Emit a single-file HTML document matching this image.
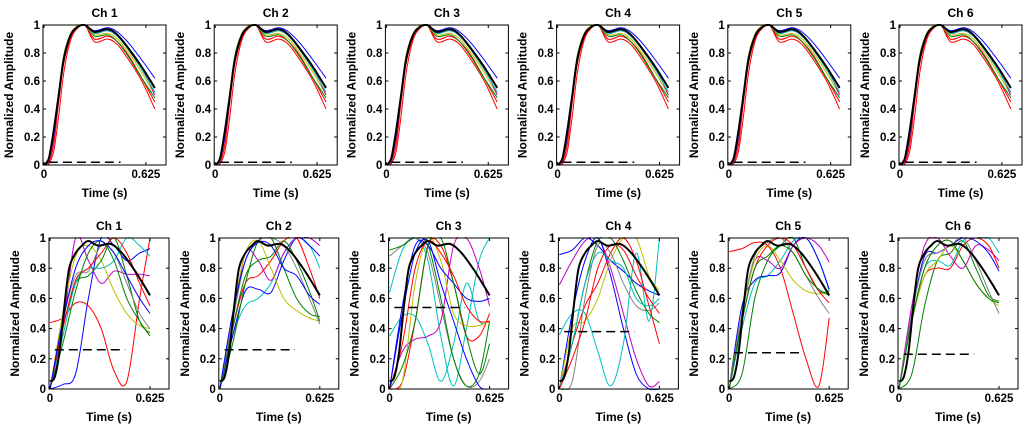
<!DOCTYPE html>
<html><head><meta charset="utf-8"><style>
html,body{margin:0;padding:0;background:#fff;}
svg{display:block;}
text{font-family:"Liberation Sans",Arial,sans-serif;font-weight:bold;fill:#000;}
</style></head><body>
<svg id="fig" width="1024" height="429" viewBox="0 0 1024 429"></svg>
<script>
// ---- data ----
const channels = ["Ch 1","Ch 2","Ch 3","Ch 4","Ch 5","Ch 6"];
const yTicks = [0,0.2,0.4,0.6,0.8,1];
const yTickLabels = ["0","0.2","0.4","0.6","0.8","1"];
const xTicks = [0,0.625];
const xTickLabels = ["0","0.625"];
const colors = {r:"#ff0000",g:"#008000",b:"#0000ff",c:"#00bfbf",m:"#bf00bf",y:"#bfbf00",k:"#404040",gr:"#808080"};

// top row
const topT = [0,0.03,0.06,0.09,0.12,0.16,0.2,0.25,0.31,0.39,0.45,0.52,0.6,0.68];
const topBlack = [0,0.05,0.25,0.5,0.75,0.92,0.98,1.0,0.95,0.97,0.93,0.83,0.7,0.55];
const topRed1 = [0,0.01,0.1,0.35,0.65,0.88,0.97,1.0,0.88,0.9,0.86,0.75,0.6,0.4];
const topRed2 = [0,0.02,0.15,0.45,0.72,0.9,0.98,1.0,0.9,0.92,0.88,0.78,0.62,0.45];
const topGreen = [0,0.03,0.2,0.5,0.78,0.93,0.99,1.0,0.92,0.93,0.88,0.77,0.62,0.48];
const topBlue = [0,0.04,0.22,0.5,0.76,0.92,0.98,1.0,0.96,0.98,0.95,0.87,0.75,0.62];
const topCyan = [0,0.04,0.23,0.5,0.77,0.92,0.98,1.0,0.94,0.96,0.92,0.82,0.68,0.52];
const topMag = [0,0.03,0.2,0.47,0.74,0.91,0.98,1.0,0.94,0.96,0.92,0.83,0.7,0.5];
const topYel = [0,0.03,0.22,0.5,0.78,0.93,0.99,1.0,0.93,0.94,0.9,0.8,0.66,0.5];
const topGray = [0,0.04,0.24,0.5,0.77,0.92,0.98,1.0,0.95,0.97,0.93,0.83,0.7,0.56];
const topThresh = [0.02,0.02,0.02,0.02,0.02,0.02];
const topCurves = [["r",topRed1],["r",topRed2],["g",topGreen],["y",topYel],["m",topMag],["c",topCyan],["gr",topGray],["b",topBlue]];

// bottom row
const botT = [0,0.08,0.16,0.24,0.32,0.4,0.48,0.56,0.625];
const botBlackT = [0,0.03,0.06,0.09,0.12,0.16,0.2,0.24,0.3,0.38,0.45,0.52,0.58,0.625];
const botBlack = [0.05,0.08,0.25,0.55,0.8,0.9,0.95,0.98,0.95,0.96,0.9,0.8,0.7,0.62];
const botThresh = [0.26,0.26,0.54,0.38,0.24,0.23];
const bot1 = [["r",[0.44,0.47,0.57,0.55,0.4,0.12,0.05,0.6,1.0]],["b",[0,0.03,0.1,0.6,1.0,0.95,0.85,0.9,0.93]],["m",[0,0.4,1.0,0.85,0.7,0.78,0.76,0.76,0.75]],["y",[0,0.5,0.88,0.95,0.85,0.65,0.5,0.42,0.4]],["g",[0,0.4,0.7,0.75,0.85,1.0,0.75,0.45,0.37]],["c",[0,0.35,0.7,0.8,0.8,0.85,1.0,0.95,0.88]],["gr",[0,0.45,0.75,0.78,0.95,0.9,0.7,0.5,0.4]],["r",[0,0.4,0.72,0.8,0.9,1.0,0.9,0.7,0.55]],["g",[0,0.3,0.65,0.9,0.98,0.85,0.6,0.45,0.35]],["b",[0,0.45,0.8,0.95,0.98,0.9,0.75,0.6,0.5]]];
const bot2 = [["c",[0,0.35,0.55,0.6,0.7,0.9,1.0,0.95,0.8]],["b",[0,0.35,0.65,0.66,0.64,0.85,1.0,0.95,0.88]],["r",[0,0.4,0.7,0.75,0.85,0.98,1.0,0.8,0.6]],["m",[0,0.45,0.9,0.85,0.72,0.9,1.0,1.0,0.95]],["y",[0,0.5,0.9,0.98,0.8,0.6,0.52,0.47,0.45]],["g",[0,0.3,0.7,0.98,1.0,0.8,0.6,0.5,0.48]],["g",[0,0.4,0.75,0.85,0.88,0.98,0.85,0.65,0.45]],["gr",[0,0.45,0.85,0.98,1.0,0.95,0.8,0.6,0.43]],["b",[0,0.5,0.85,0.97,0.95,0.8,0.75,0.62,0.56]]];
const bot3 = [["c",[0.64,0.92,1.0,0.85,0.35,0.02,0.4,0.85,1.0]],["c",[0.35,0.48,0.48,0.3,0.05,0.3,0.7,0.45,0.45]],["gr",[0.88,0.95,1.0,0.9,0.55,0.2,0.02,0.05,0.2]],["g",[0.92,0.95,1.0,0.95,0.6,0.2,0.02,0.1,0.45]],["m",[0,0.25,0.33,0.35,0.45,0.95,1.0,0.8,0.55]],["r",[0,0.05,0.45,0.95,0.95,0.7,0.35,0.35,0.5]],["y",[0,0.05,0.7,1.0,0.85,0.5,0.42,0.42,0.45]],["b",[0,0.55,0.95,0.95,0.8,0.7,0.6,0.58,0.6]],["g",[0,0.15,0.45,0.95,1.0,0.7,0.35,0.1,0.3]],["r",[0,0.3,0.8,0.98,0.9,0.75,0.55,0.45,0.45]],["b",[0,0.5,0.9,0.98,0.7,0.45,0.2,0.02,0.0]]];
const bot4 = [["b",[0.89,0.92,1.0,0.95,0.85,0.78,0.7,0.65,0.62]],["m",[0.69,0.85,0.98,1.0,0.8,0.5,0.2,0.02,0.05]],["b",[0,0.5,0.85,1.0,0.75,0.4,0.1,0,0]],["c",[0.36,0.5,0.5,0.25,0.02,0.3,0.9,0.45,1.0]],["y",[0,0.4,0.45,0.6,0.85,1.0,1.0,0.75,0.65]],["r",[0,0.3,0.55,0.7,0.9,1.0,0.85,0.55,0.3]],["gr",[0,0.05,0.6,0.95,0.9,0.7,0.55,0.52,0.57]],["g",[0,0.3,0.7,0.98,1.0,0.85,0.65,0.5,0.44]],["c",[0,0.3,0.7,0.9,0.85,0.8,0.6,0.55,0.6]],["r",[0,0.2,0.45,0.8,0.95,0.92,0.75,0.6,0.5]]];
const bot5 = [["r",[0.91,0.93,0.97,0.95,0.8,0.5,0.2,0.02,0.47]],["g",[0,0.1,0.6,0.85,0.95,1.0,0.8,0.65,0.65]],["c",[0,0.4,0.7,0.75,0.85,0.98,1.0,0.85,0.65]],["b",[0,0.55,0.72,0.75,0.77,0.95,1.0,0.85,0.66]],["m",[0,0.5,0.85,0.85,0.8,0.95,1.0,0.95,0.84]],["y",[0,0.5,0.85,0.95,0.85,0.72,0.65,0.63,0.64]],["gr",[0,0.5,0.88,0.97,1.0,0.9,0.75,0.6,0.5]],["r",[0,0.45,0.8,0.95,1.0,0.95,0.8,0.65,0.57]],["g",[0,0.45,0.8,0.88,0.95,0.9,0.75,0.66,0.62]]];
const bot6 = [["g",[0,0.1,0.55,0.85,0.9,0.98,0.8,0.62,0.58]],["m",[0,0.55,0.95,1.0,0.88,0.8,0.95,0.92,0.85]],["r",[0,0.45,0.75,0.8,0.8,0.95,1.0,0.95,0.8]],["c",[0,0.45,0.8,0.85,0.82,0.98,1.0,1.0,0.9]],["b",[0,0.5,0.88,0.9,0.95,1.0,0.98,0.9,0.78]],["y",[0,0.45,0.75,0.85,0.95,0.85,0.7,0.6,0.55]],["gr",[0,0.5,0.85,0.9,0.95,1.0,0.85,0.65,0.5]],["g",[0,0.45,0.8,0.95,0.98,0.85,0.7,0.6,0.57]]];
const botCurves = [bot1,bot2,bot3,bot4,bot5,bot6];
const threshStart = 0.03, threshEnd = 0.47;

// ---- drawing ----
const NS = "http://www.w3.org/2000/svg";
const svg = document.getElementById("fig");
function mk(tag, attrs, parent){
  const e = document.createElementNS(NS, tag);
  for (const k in attrs) e.setAttribute(k, attrs[k]);
  (parent||svg).appendChild(e);
  return e;
}
function spline(pts){
  let d = "M"+pts[0][0].toFixed(1)+","+pts[0][1].toFixed(1);
  for (let i=0;i<pts.length-1;i++){
    const p0=pts[Math.max(0,i-1)], p1=pts[i], p2=pts[i+1], p3=pts[Math.min(pts.length-1,i+2)];
    const c1=[p1[0]+(p2[0]-p0[0])/6, p1[1]+(p2[1]-p0[1])/6];
    const c2=[p2[0]-(p3[0]-p1[0])/6, p2[1]-(p3[1]-p1[1])/6];
    d += "C"+c1[0].toFixed(1)+","+c1[1].toFixed(1)+" "+c2[0].toFixed(1)+","+c2[1].toFixed(1)+" "+p2[0].toFixed(1)+","+p2[1].toFixed(1);
  }
  return d;
}
function panel(row, i){
  const left = row===0 ? 43+171.2*i : 49+169.8*i;
  const top = row===0 ? 25 : 238;
  const bottom = row===0 ? 165 : 389;
  const pxPerUnit = row===0 ? 163 : 160;
  const width = row===0 ? 123 : 120;
  const xs = t => left+1+t*pxPerUnit;
  const ys = v => bottom-(bottom-top)*v;
  const g = mk("g", {});
  
  
  const clipId = "clip"+row+"_"+i;
  const cp = mk("clipPath",{id:clipId},g);
  mk("rect",{x:left,y:top-1,width:width,height:bottom-top+2},cp);
  const plot = mk("g",{"clip-path":"url(#"+clipId+")"},g);
  const curves = row===0 ? topCurves : botCurves[i];
  const T = row===0 ? topT : botT;
  curves.forEach((c,j)=>{
    const p = mk("path",{d:spline(T.map((t,k)=>[xs(t),ys(c[1][k])])),fill:"none",stroke:colors[c[0]],"stroke-width":1},plot);
    
    
  });
  const bT = row===0 ? topT : botBlackT;
  const bV = row===0 ? topBlack : botBlack;
  const bp = mk("path",{d:spline(bT.map((t,k)=>[xs(t),ys(bV[k])])),fill:"none",stroke:"#000","stroke-width":2},plot);
  
  
  const th = row===0 ? topThresh[i] : botThresh[i];
  const tl = mk("line",{x1:xs(threshStart),x2:xs(threshEnd),y1:ys(th),y2:ys(th),stroke:"#000","stroke-width":1.5,"stroke-dasharray":"9,5"},plot);
  
  
  const fr = mk("rect",{x:left,y:top,width:width,height:bottom-top,fill:"none",stroke:"#000","stroke-width":1},g);
  
  
  yTicks.forEach((v,k)=>{
    const y=ys(v);
    mk("line",{x1:left,x2:left+3,y1:y,y2:y,stroke:"#000"},g);
    mk("line",{x1:left+width-3,x2:left+width,y1:y,y2:y,stroke:"#000"},g);
    const tx = mk("text",{x:left-3,y:y+4,"text-anchor":"end","font-size":11.5},g);
    tx.textContent = yTickLabels[k];
    
    
  });
  xTicks.forEach((t,k)=>{
    const x=xs(t);
    mk("line",{x1:x,x2:x,y1:bottom,y2:bottom-3,stroke:"#000"},g);
    mk("line",{x1:x,x2:x,y1:top,y2:top+3,stroke:"#000"},g);
    const tx = mk("text",{x:x,y:bottom+13,"text-anchor":"middle","font-size":11.5},g);
    tx.textContent = xTickLabels[k];
    
    
  });
  const ttl = mk("text",{x:left+width/2,y:top-8,"text-anchor":"middle","font-size":12},g);
  ttl.textContent = channels[i];
  
  
  const xl = mk("text",{x:left+width/2,y:bottom+32,"text-anchor":"middle","font-size":12},g);
  xl.textContent = "Time (s)";
  
  
  const yx = left-30, yy=(top+bottom)/2;
  const yl = mk("text",{x:yx,y:yy,"text-anchor":"middle","font-size":12,transform:"rotate(-90 "+yx+" "+yy+")"},g);
  yl.textContent = "Normalized Amplitude";
  
  
}
for (let r=0;r<2;r++) for (let i=0;i<6;i++) panel(r,i);
</script>
</body></html>
